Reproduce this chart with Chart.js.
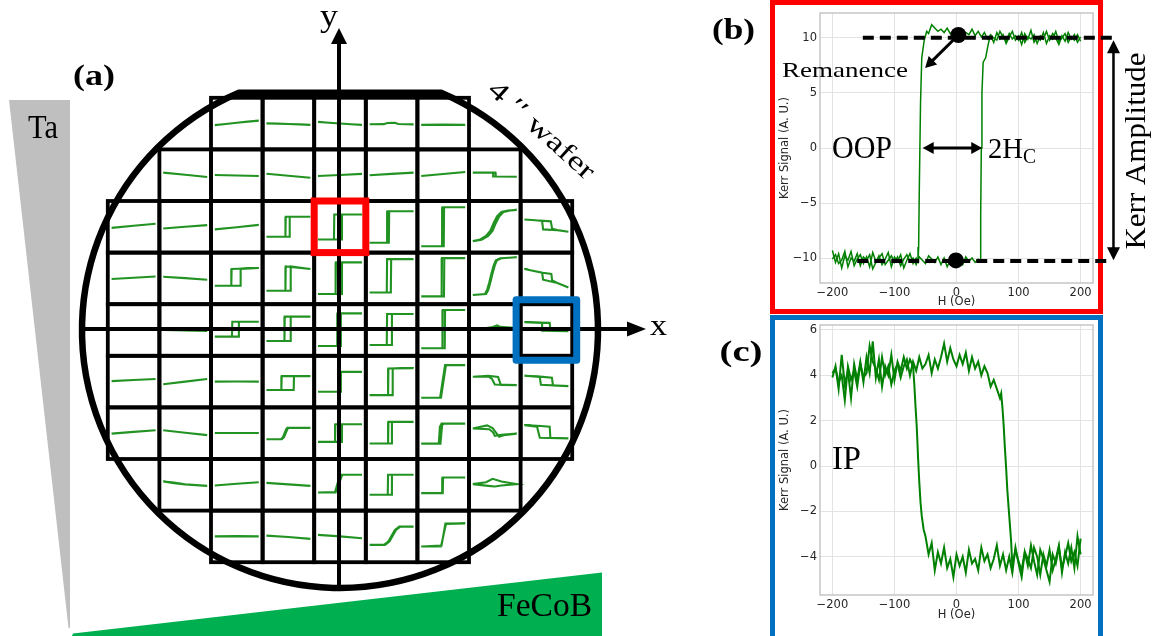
<!DOCTYPE html>
<html><head><meta charset="utf-8">
<script src="https://cdn.jsdelivr.net/npm/chart.js@4.4.1/dist/chart.umd.min.js"></script>
<style>
html,body{margin:0;padding:0;background:#fff}
#wrap{position:relative;width:1152px;height:636px;overflow:hidden;background:#fff}
canvas{position:absolute}
</style>
</head><body><div id="wrap">
<canvas id="ca" width="770" height="636" style="left:0;top:0;width:770px;height:636px"></canvas>
<canvas id="cb" width="382" height="316" style="left:770px;top:0;width:382px;height:316px"></canvas>
<canvas id="cc" width="382" height="324" style="left:770px;top:312px;width:382px;height:324px"></canvas>
</div>
<script>
// ---------- tick labels ----------
const hTicks = [-200, -100, 0, 100, 200];
const oopTicks = [-10, -5, 0, 5, 10];
const ipTicks = [-4, -2, 0, 2, 4, 6];

// ---------- panel (b): OOP loop, [H (Oe), Kerr signal] ----------
const oopAsc = [[-200,-9.3],[-195,-10.4],[-190,-9.6],[-185,-10.9],[-180,-9.8],[-175,-10.2],[-170,-9.4],[-165,-10.7],[-160,-10.1],[-155,-9.7],[-150,-10.5],[-145,-9.9],[-140,-10.8],[-135,-9.5],[-130,-10.3],[-125,-10.0],[-120,-9.6],[-115,-10.6],[-110,-10.2],[-105,-9.8],[-100,-10.4],[-95,-9.9],[-90,-10.7],[-85,-10.1],[-80,-9.7],[-75,-10.3],[-70,-10.0],[-65,-10.6],[-60,-9.9],[-55,-10.2],[-50,-10.5],[-45,-9.8],[-40,-10.1],[-35,-10.4],[-30,-9.9],[-25,-10.6],[-20,-10.0],[-15,-10.8],[-10,-10.2],[-5,-9.9],[0,-10.4],[5,-10.1],[10,-10.6],[15,-9.9],[20,-10.3],[25,-10.0],[30,-10.4],[35,-10.1],[38,-10.2],[39,-6.0],[40,0.0],[41,5.0],[43,7.8],[47,8.2],[50,9.1],[53,9.9],[55,10.2],[60,9.6],[65,10.5],[70,9.9],[75,10.3],[80,9.5],[85,10.1],[90,10.6],[95,9.8],[100,10.2],[105,9.4],[110,10.4],[115,9.9],[120,10.7],[125,9.6],[130,10.1],[135,9.8],[140,10.5],[145,9.5],[150,10.2],[155,9.9],[160,10.6],[165,9.7],[170,10.0],[175,10.4],[180,9.6],[185,10.1],[190,9.8],[195,10.3],[200,9.7]];
const oopDesc = [[200,10.1],[195,9.6],[190,10.3],[185,9.9],[180,10.5],[175,9.7],[170,10.2],[165,9.4],[160,10.0],[155,10.4],[150,9.8],[145,10.6],[140,9.9],[135,10.2],[130,9.5],[125,10.3],[120,9.9],[115,10.1],[110,9.6],[105,10.5],[100,9.8],[95,10.2],[90,9.9],[85,10.4],[80,9.7],[75,10.1],[70,10.6],[65,9.8],[60,10.0],[55,10.3],[50,9.9],[45,10.5],[40,10.1],[35,10.6],[30,10.2],[25,10.8],[20,10.3],[15,10.5],[10,10.1],[5,10.7],[0,10.3],[-5,10.6],[-10,10.4],[-15,10.9],[-20,10.5],[-25,10.8],[-30,10.6],[-35,10.9],[-40,11.2],[-45,10.4],[-48,10.6],[-52,9.8],[-56,8.2],[-58,4.0],[-60,-4.0],[-61,-9.0],[-62,-10.3],[-65,-10.0],[-70,-10.5],[-75,-9.6],[-80,-10.2],[-85,-10.9],[-90,-9.7],[-95,-10.3],[-100,-9.9],[-105,-10.8],[-110,-9.5],[-115,-10.1],[-120,-10.6],[-125,-9.8],[-130,-10.4],[-135,-11.0],[-140,-9.7],[-145,-10.2],[-150,-9.9],[-155,-10.7],[-160,-9.6],[-165,-10.3],[-170,-10.0],[-175,-10.8],[-180,-9.4],[-185,-10.2],[-190,-10.5],[-195,-9.7],[-200,-10.1]];
// annotation values of panel (b)
const satTopLine = [[-151,10.03],[260,10.03]];
const satBottomLine = [[-160,-10.27],[251,-10.27]];
const remanenceDots = [[3,10.27],[-1,-10.22]];
const remArrowH = [3,-50.6], remArrowS = [10.27,7.27];
const hcArrowH = [-54.5,41.5], hcArrowS = 0;
const ampArrowH = 253, ampArrowS = [9.8,-10.2];

// ---------- panel (c): IP loop, [H (Oe), Kerr signal] ----------
const ipAsc = [[-200,3.9],[-195,4.4],[-190,3.4],[-185,4.9],[-180,3.6],[-175,4.2],[-170,3.0],[-165,4.5],[-160,3.8],[-155,4.6],[-150,3.7],[-145,4.8],[-140,4.1],[-135,5.5],[-130,3.9],[-125,4.7],[-120,3.5],[-115,4.4],[-110,4.0],[-105,4.9],[-100,3.8],[-95,4.6],[-90,4.2],[-85,4.8],[-80,4.3],[-75,4.7],[-70,4.4],[-68,3.6],[-66,2.6],[-64,1.7],[-62,0.4],[-60,-0.7],[-58,-1.6],[-56,-2.2],[-53,-2.8],[-50,-3.1],[-45,-3.9],[-40,-3.4],[-35,-4.6],[-30,-3.8],[-25,-4.3],[-20,-3.6],[-15,-4.5],[-10,-4.1],[-5,-4.9],[0,-3.9],[5,-4.4],[10,-4.0],[15,-4.7],[20,-3.7],[25,-4.3],[30,-4.1],[35,-4.6],[40,-3.6],[45,-4.2],[50,-3.9],[55,-4.5],[60,-4.1],[65,-3.5],[70,-4.4],[75,-3.9],[80,-4.6],[85,-4.0],[90,-4.7],[95,-3.6],[100,-4.3],[105,-4.9],[110,-3.8],[115,-4.4],[120,-3.5],[125,-4.2],[130,-4.8],[135,-3.7],[140,-4.1],[145,-4.6],[150,-5.1],[155,-3.9],[160,-4.3],[165,-3.6],[170,-4.5],[175,-4.0],[180,-3.4],[185,-4.2],[190,-3.8],[195,-4.4],[200,-3.2]];
const ipDesc = [[200,-3.9],[195,-3.1],[190,-4.5],[185,-3.6],[180,-4.3],[175,-3.8],[170,-4.7],[165,-3.5],[160,-4.1],[155,-4.6],[150,-3.7],[145,-4.4],[140,-3.9],[135,-4.8],[130,-4.0],[125,-3.6],[120,-4.5],[115,-4.1],[110,-3.8],[105,-4.6],[100,-4.2],[95,-3.7],[90,-4.4],[88,-3.3],[85,-2.2],[82,-1.1],[80,-0.1],[78,0.8],[76,1.8],[74,2.6],[72,3.2],[70,3.0],[65,3.4],[60,3.8],[55,3.5],[50,4.1],[45,4.4],[40,4.0],[35,4.6],[30,4.3],[25,4.8],[20,4.2],[15,5.0],[10,4.5],[5,4.9],[0,4.4],[-5,4.7],[-10,5.2],[-15,4.6],[-20,5.4],[-25,4.8],[-30,4.3],[-35,4.7],[-40,4.1],[-45,4.9],[-50,4.5],[-55,4.3],[-60,4.8],[-65,4.2],[-70,4.6],[-75,4.0],[-80,4.7],[-85,4.4],[-90,3.9],[-95,4.5],[-100,4.2],[-105,3.6],[-110,4.4],[-115,4.0],[-120,4.8],[-125,3.8],[-130,4.3],[-135,4.6],[-140,5.3],[-145,4.1],[-150,3.9],[-155,4.5],[-160,3.5],[-165,4.2],[-170,3.8],[-175,4.4],[-180,2.9],[-185,4.0],[-190,3.7],[-195,4.3],[-200,4.1]];

// ---------- panel (a): wafer map, per row: [column, loop path [H, signal]] ----------
const waferRow0 = [
 [2,[[-200,-1.2],[-100,-0.3],[0,0.6],[100,1.5],[200,2.3]]],
 [3,[[-200,0.2],[-100,0],[0,-0.3],[100,-0.6],[200,-1.0]]],
 [4,[[-200,1.3],[-100,0.7],[0,0.1],[100,-0.5],[200,-1.0]]],
 [5,[[-200,-0.5],[-70,-0.4],[-40,0.5],[30,0.6],[60,-0.3],[200,-0.6]]],
 [6,[[-200,-1.0],[0,-0.8],[200,-1.0]]]];
const waferRow1 = [
 [1,[[-200,2.0],[0,0.4],[200,-1.4]]],
 [2,[[-200,0.2],[0,-0.2],[200,-0.6]]],
 [3,[[-200,1.1],[0,-0.4],[200,-2.0]]],
 [4,[[-200,-0.6],[0,0.2],[200,1.0]]],
 [5,[[-200,0.0],[0,1.0],[200,2.0]]],
 [6,[[-200,-0.6],[0,0.9],[200,2.5]]],
 [7,[[-200,2.0],[5,2.0],[8,-1.0],[200,-1.2],[-12,-1.0],[-15,2.0],[-200,2.0]]]];
const waferRow2 = [
 [0,[[-200,-0.8],[0,0.8],[200,2.3]]],
 [1,[[-200,-1.3],[0,0.0],[200,1.3]]],
 [2,[[-200,-2.0],[0,-0.3],[200,1.5]]],
 [3,[[-200,-7.7],[9,-7.7],[12,7.7],[200,7.7],[-24,7.7],[-27,-7.7],[-200,-7.7]]],
 [4,[[-200,-9.8],[15,-9.8],[18,9.5],[200,9.5],[-52,9.5],[-55,-9.8],[-200,-9.8]]],
 [5,[[-200,-12.3],[-25,-12.3],[-22,12.0],[200,12.0],[-38,12.0],[-41,-12.3],[-200,-12.3]]],
 [6,[[-200,-15.0],[5,-15.0],[8,15.0],[200,15.0],[-7,15.0],[-10,-15.0],[-200,-15.0]]],
 [7,[[-200,-11],[-120,-10],[-60,-7],[-20,-3],[10,3],[40,8],[80,11.5],[140,12.5],[200,13],[120,12.5],[60,11.5],[20,8],[-10,3],[-40,-3],[-80,-7],[-140,-10],[-200,-11]]],
 [8,[[-200,5.6],[-100,5.0],[40,4.2],[52,-1.5],[100,-2.5],[200,-3.8],[100,-2.6],[-30,-2.0],[-39,4.4],[-100,5.0],[-200,5.6]]]];
const waferRow3 = [
 [0,[[-200,-0.5],[0,0.5],[200,1.5]]],
 [1,[[-200,1.3],[0,0.2],[200,-1.0]]],
 [2,[[-200,-5.6],[32,-5.6],[35,7.2],[200,8.0],[-47,7.2],[-50,-5.6],[-200,-5.6]]],
 [3,[[-200,-9.5],[18,-9.5],[21,9.2],[200,7.2],[-24,9.2],[-27,-9.5],[-200,-9.5]]],
 [4,[[-200,-12.0],[15,-12.0],[18,12.3],[200,12.3],[-37,12.3],[-40,-12.0],[-200,-12.0]]],
 [5,[[-200,-10.8],[-7,-10.8],[-4,14.8],[200,14.8],[-41,14.8],[-44,-10.8],[-200,-10.8]]],
 [6,[[-200,-13.8],[7,-13.8],[10,15.6],[200,15.6],[-11,15.6],[-14,-13.8],[-200,-13.8]]],
 [7,[[-200,-12.8],[-80,-12],[-60,-9],[-40,-3],[-20,4],[0,10],[20,14],[60,15.5],[200,16.3],[50,15.5],[10,14],[-10,10],[-30,4],[-50,-3],[-70,-9],[-90,-12],[-200,-12.8]]],
 [8,[[-200,7.2],[-50,4.6],[45,3.5],[52,-1.5],[100,-3.5],[200,-7.0],[100,-3.6],[-30,-1.0],[-39,4.5],[-100,5.5],[-200,7.2]]]];
const waferRow4 = [
 [0,[[-200,0.0],[0,0.2],[200,0.5]]],
 [1,[[-200,0.0],[0,-0.4],[200,-0.8]]],
 [2,[[-200,-5.1],[16,-5.1],[19,6.4],[200,6.4],[-41,6.4],[-44,-5.1],[-200,-5.1]]],
 [3,[[-200,-8.5],[18,-8.5],[21,10.3],[200,10.3],[-33,10.3],[-36,-8.5],[-200,-8.5]]],
 [4,[[-200,-12.3],[5,-12.3],[8,12.8],[200,12.8],[-22,12.8],[-25,-12.3],[-200,-12.3]]],
 [5,[[-200,-11.5],[0,-11.5],[3,12.3],[200,12.3],[-41,12.3],[-44,-11.5],[-200,-11.5]]],
 [6,[[-200,-14.0],[14,-14.0],[17,15.4],[200,15.4],[-4,15.4],[-7,-14.0],[-200,-14.0]]],
 [7,[[-200,0.0],[-50,1.0],[0,2.5],[50,2.5],[200,1.5],[60,2.0],[20,3.5],[-30,2.0],[-200,0.0]]],
 [8,[[-200,6.0],[30,5.5],[36,-0.5],[200,-1.0],[-33,-0.6],[-39,5.5],[-200,6.0]]]];
const waferRow5 = [
 [0,[[-200,0.4],[0,1.2],[200,2.0]]],
 [1,[[-200,-2.0],[0,0.0],[200,2.0]]],
 [2,[[-200,0.0],[0,0.1],[200,0.0]]],
 [3,[[-200,-6.5],[48,-6.5],[51,4.2],[200,4.2],[-61,4.2],[-64,-6.5],[-200,-6.5]]],
 [4,[[-200,-7.8],[5,-7.8],[8,7.5],[200,7.5],[-12,7.5],[-15,-7.8],[-200,-7.8]]],
 [5,[[-200,-10.4],[7,-10.4],[10,10.1],[200,10.4],[-29,10.1],[-32,-10.4],[-200,-10.4]]],
 [6,[[-200,-12.4],[-20,-12.4],[25,12.7],[200,12.7],[17,12.7],[-28,-12.4],[-200,-12.4]]],
 [7,[[-200,3.7],[-60,4.5],[30,3.5],[55,-2.5],[200,-2.7],[0,-2.2],[-25,2.0],[-60,4.0],[-200,3.7]]],
 [8,[[-200,4.5],[-80,4.0],[50,3.0],[60,-3.0],[200,-3.5],[-50,-2.5],[-60,3.5],[-200,4.5]]]];
const waferRow6 = [
 [0,[[-200,-0.3],[0,1.0],[200,2.3]]],
 [1,[[-200,2.3],[0,0.4],[200,-1.5]]],
 [2,[[-200,0.2],[0,0.2],[200,0.2]]],
 [3,[[-200,-4.6],[-60,-4.6],[-40,-3.0],[-10,3.0],[0,4.1],[200,4.1],[-10,4.1],[-20,3.0],[-50,-3.0],[-68,-4.6],[-200,-4.6]]],
 [4,[[-200,-6.7],[15,-6.7],[18,6.9],[200,6.9],[-42,6.9],[-45,-6.7],[-200,-6.7]]],
 [5,[[-200,-7.9],[0,-7.9],[3,8.7],[200,8.7],[-29,8.7],[-32,-7.9],[-200,-7.9]]],
 [6,[[-200,-8.0],[-25,-8.0],[-10,6.0],[5,7.4],[200,7.4],[-15,7.4],[-30,5.0],[-40,-8.0],[-200,-8.0]]],
 [7,[[-200,3.6],[-70,6.0],[-20,4.0],[40,-2.8],[80,-1.5],[200,-0.3],[60,-1.2],[0,-2.0],[-14,0.5],[-50,3.0],[-200,3.6]]],
 [8,[[-200,6.2],[-50,5.5],[30,5.0],[36,-3.5],[200,-4.0],[-60,-3.5],[-85,5.0],[-200,6.2]]]];
const waferRow7 = [
 [1,[[-200,2.5],[-100,1.2],[0,0.3],[200,-0.8],[0,0.4],[-120,1.9],[-200,2.5]]],
 [2,[[-200,-0.5],[0,0.8],[200,2.0]]],
 [3,[[-200,1.5],[0,0.3],[200,-0.8]]],
 [4,[[-200,-5.9],[-40,-5.9],[20,7.7],[200,7.7],[0,7.7],[-45,-5.5],[-200,-5.9]]],
 [5,[[-200,-7.7],[0,-7.7],[3,7.7],[200,7.7],[-32,7.7],[-35,-7.7],[-200,-7.7]]],
 [6,[[-200,-6.4],[-4,-6.4],[-1,5.6],[200,5.6],[-6,5.6],[-9,-6.4],[-200,-6.4]]],
 [7,[[-200,0.5],[-60,-0.8],[0,-1.3],[60,-0.5],[200,0.5],[60,2.5],[-20,4.6],[-80,2.0],[-200,0.5]]]];
const waferRow8 = [
 [2,[[-200,0.0],[0,0.2],[200,0.0]]],
 [3,[[-200,0.6],[0,-0.5],[200,-1.9]]],
 [4,[[-200,1.2],[0,0.0],[200,-1.4]]],
 [5,[[-200,-6.5],[-60,-6.5],[-20,-4.0],[40,5.0],[80,7.5],[200,7.5],[70,7.5],[30,5.0],[-30,-4.0],[-70,-6.5],[-200,-6.5]]],
 [6,[[-200,-7.8],[-20,-7.8],[25,9.5],[200,10.0],[20,9.8],[-15,-7.0],[-200,-7.8]]]];
const waferRows = [waferRow0,waferRow1,waferRow2,waferRow3,waferRow4,waferRow5,waferRow6,waferRow7,waferRow8];
const oopCell = [2,4];   // [row, column] shown in (b)
const ipCell = [4,8];    // [row, column] shown in (c)

// ---------- helpers ----------
const SERIF = '"Liberation Serif", "DejaVu Serif", serif';
function fmt(v){ return v < 0 ? '\u2212' + Math.abs(v) : String(v); }
function txt(ctx, s, x, y, o){
  ctx.save();
  ctx.font = (o.weight || 'normal') + ' ' + o.size + 'px ' + (o.family || SERIF);
  ctx.fillStyle = o.color || '#000';
  ctx.textBaseline = o.base || 'alphabetic';
  ctx.textAlign = o.align || 'left';
  ctx.translate(x, y);
  if (o.rot) ctx.rotate(o.rot);
  if (o.w) { const m = ctx.measureText(s).width; ctx.scale(o.w / m, 1); }
  ctx.fillText(s, 0, 0);
  ctx.restore();
}
function head(ctx, x1, y1, x2, y2, len, hw){
  const a = Math.atan2(y2 - y1, x2 - x1);
  ctx.beginPath();
  ctx.moveTo(x2, y2);
  ctx.lineTo(x2 - len*Math.cos(a) + hw*Math.sin(a), y2 - len*Math.sin(a) - hw*Math.cos(a));
  ctx.lineTo(x2 - len*Math.cos(a) - hw*Math.sin(a), y2 - len*Math.sin(a) + hw*Math.cos(a));
  ctx.closePath(); ctx.fill();
}
function arrow(ctx, x1, y1, x2, y2, lw, len, hw, both){
  ctx.save();
  ctx.strokeStyle = '#000'; ctx.fillStyle = '#000'; ctx.lineWidth = lw;
  const a = Math.atan2(y2 - y1, x2 - x1);
  const sx = both ? x1 + (len-2)*Math.cos(a) : x1, sy = both ? y1 + (len-2)*Math.sin(a) : y1;
  ctx.beginPath(); ctx.moveTo(sx, sy);
  ctx.lineTo(x2 - (len-2)*Math.cos(a), y2 - (len-2)*Math.sin(a)); ctx.stroke();
  head(ctx, x1, y1, x2, y2, len, hw);
  if (both) head(ctx, x2, y2, x1, y1, len, hw);
  ctx.restore();
}
function poly(ctx, pts, col){
  ctx.save(); ctx.fillStyle = col; ctx.beginPath();
  pts.forEach((p,i) => i ? ctx.lineTo(p[0],p[1]) : ctx.moveTo(p[0],p[1]));
  ctx.closePath(); ctx.fill(); ctx.restore();
}
function xy(arr){ return arr.map(p => ({x: p[0], y: p[1]})); }

Chart.defaults.font.family = '"DejaVu Sans", sans-serif';

// ---------- panel (a) ----------
const UNIT = 51.6;               // px per cell
const KX = 22 / UNIT / 200;      // field -> cell fraction
const KY = 1.3 / UNIT;           // signal -> cell fraction
const aDatasets = [];
waferRows.forEach((row, r) => row.forEach(([c, path]) => {
  aDatasets.push({
    data: path.map(([h, s]) => ({x: (c - 4) + h*KX, y: (4 - r) + s*KY})),
    showLine: true, borderColor: 'rgba(10,135,10,0.9)', borderWidth: 2.1,
    pointRadius: 0, tension: 0, fill: false, clip: false
  });
}));

const waferDeco = {
  id: 'waferDeco',
  beforeDatasetsDraw(ch){
    const ctx = ch.ctx;
    poly(ctx, [[9,100],[70,100],[70,628],[68.5,628]], '#bfbfbf');
    poly(ctx, [[72,636],[73,633.5],[602,572.5],[602,636]], '#00b050');
  },
  afterDatasetsDraw(ch){
    const {ctx, scales:{x, y}} = ch;
    const U = x.getPixelForValue(1) - x.getPixelForValue(0);
    ctx.save();
    // grid cells
    ctx.strokeStyle = '#000'; ctx.lineWidth = 3.8; ctx.lineJoin = 'miter';
    waferRows.forEach((row, r) => row.forEach(([c]) => {
      ctx.strokeRect(x.getPixelForValue(c - 4.5), y.getPixelForValue(4.5 - r), U, U);
    }));
    // wafer outline with flat
    const cx = x.getPixelForValue(0), cy = y.getPixelForValue(0), R = 5.0*U;
    const fy = y.getPixelForValue(4.6);
    const a1 = Math.asin((fy - cy)/R);
    ctx.lineWidth = 6.5;
    ctx.beginPath(); ctx.arc(cx, cy, R, a1, Math.PI - a1, false); ctx.closePath(); ctx.stroke();
    // axes
    const x0 = x.getPixelForValue(0), y0 = y.getPixelForValue(0);
    arrow(ctx, 83, y0 - 1, 646, y0 - 1, 4, 19, 7.5, false);
    arrow(ctx, x0 - 1, 588, x0 - 1, 28, 4, 16, 8, false);
    // highlighted cells
    ctx.lineWidth = 7; ctx.strokeStyle = '#ff0000';
    ctx.strokeRect(x.getPixelForValue(oopCell[1] - 4.5), y.getPixelForValue(4.5 - oopCell[0]), U, U);
    ctx.strokeStyle = '#0070c0'; ctx.lineJoin = 'round';
    ctx.strokeRect(x.getPixelForValue(ipCell[1] - 4.5) - 4.5, y.getPixelForValue(4.5 - ipCell[0]) - 4.5, U + 9, U + 9);
    ctx.restore();
    // texts
    txt(ctx, '(a)', 94, 85, {size: 30, weight: 'bold', align: 'center', w: 42});
    txt(ctx, '(b)', 733.5, 39, {size: 30, weight: 'bold', align: 'center', w: 43});
    txt(ctx, '(c)', 741, 361, {size: 30, weight: 'bold', align: 'center', w: 43});
    txt(ctx, 'Ta', 28, 138, {size: 33, w: 30});
    txt(ctx, 'FeCoB', 497, 616, {size: 34, w: 95});
    txt(ctx, 'x', 650, 335, {size: 30, w: 17});
    txt(ctx, 'y', 320, 26, {size: 32, w: 18});
    txt(ctx, '4 \u2032\u2032 wafer', 541, 131, {size: 27, align: 'center', base: 'middle', rot: 42*Math.PI/180, w: 134});
  }
};

new Chart(document.getElementById('ca'), {
  type: 'scatter',
  data: {datasets: aDatasets},
  options: {
    responsive: false, animation: false, devicePixelRatio: 1,
    layout: {padding: 0},
    plugins: {legend: {display: false}, tooltip: {enabled: false}},
    scales: {
      x: {type: 'linear', display: false, min: -340/UNIT, max: (770-340)/UNIT},
      y: {type: 'linear', display: false, min: -(636-330)/UNIT, max: 330/UNIT}
    }
  },
  plugins: [waferDeco]
});

// ---------- panels (b) and (c) ----------
function loopScales(yMin, yMax, yT, xH, titlePadB){
  const tickFont = {size: 11.5, family: '"DejaVu Sans"'};
  return {
    x: {type: 'linear', min: -220, max: 220,
      afterFit(s){ s.height = xH; },
      afterBuildTicks(s){ s.ticks = hTicks.map(v => ({value: v})); },
      ticks: {color: '#262626', font: tickFont, padding: 3, maxRotation: 0, autoSkip: false, callback: v => fmt(v)},
      grid: {color: '#e3e3e3', lineWidth: 1, drawTicks: false},
      border: {display: false},
      title: {display: true, text: 'H (Oe)', color: '#262626', font: tickFont, padding: {top: 0, bottom: titlePadB}}},
    y: {type: 'linear', min: yMin, max: yMax,
      afterFit(s){ s.width = 50; },
      afterBuildTicks(s){ s.ticks = yT.map(v => ({value: v})); },
      ticks: {color: '#262626', font: tickFont, padding: 3, autoSkip: false, callback: v => fmt(v)},
      grid: {color: '#e3e3e3', lineWidth: 1, drawTicks: false},
      border: {display: false},
      title: {display: true, text: 'Kerr Signal (A. U.)', color: '#262626', font: tickFont, padding: {top: 7.8, bottom: 0}}}
  };
}
function spine(ch){
  const {ctx, chartArea: a} = ch;
  ctx.save(); ctx.strokeStyle = '#bdbdbd'; ctx.lineWidth = 1.3;
  ctx.strokeRect(a.left, a.top, a.right - a.left, a.bottom - a.top); ctx.restore();
}
function loopDs(arr, w, order){
  return {data: xy(arr), showLine: true, borderColor: '#008000', borderWidth: w, pointRadius: 0, tension: 0, fill: false, order: order};
}

const oopDeco = {
  id: 'oopDeco',
  beforeDraw(ch){
    const c = ch.ctx; c.save(); c.strokeStyle = '#ff0000'; c.lineWidth = 5;
    c.strokeRect(2.5, 2.5, 328, 309); c.restore();
  },
  beforeDatasetsDraw(ch){ spine(ch); },
  afterDatasetsDraw(ch){
    const {ctx, scales:{x, y}} = ch;
    arrow(ctx, x.getPixelForValue(remArrowH[0]), y.getPixelForValue(remArrowS[0]), x.getPixelForValue(remArrowH[1]), y.getPixelForValue(remArrowS[1]), 3, 11, 6, false);
    arrow(ctx, x.getPixelForValue(hcArrowH[0]), y.getPixelForValue(hcArrowS), x.getPixelForValue(hcArrowH[1]), y.getPixelForValue(hcArrowS), 3, 11, 6, true);
    arrow(ctx, x.getPixelForValue(ampArrowH), y.getPixelForValue(ampArrowS[0]), x.getPixelForValue(ampArrowH), y.getPixelForValue(ampArrowS[1]), 2.5, 13, 6.5, true);
    const ox = 770, oy = 0;
    txt(ctx, 'Remanence', 782 - ox, 77 - oy, {size: 22, w: 126});
    txt(ctx, 'OOP', 832 - ox, 158 - oy, {size: 32, w: 60});
    txt(ctx, '2H', 988 - ox, 158 - oy, {size: 30, w: 35});
    txt(ctx, 'C', 1023 - ox, 163 - oy, {size: 20, w: 13});
    txt(ctx, 'Kerr Amplitude', 1145 - ox, 151 - oy, {size: 30, align: 'center', rot: -Math.PI/2, w: 197});
  }
};

new Chart(document.getElementById('cb'), {
  type: 'scatter',
  data: {datasets: [
    {data: xy(remanenceDots), showLine: false, pointRadius: 8, pointBackgroundColor: '#000', pointBorderWidth: 0, clip: false, order: 0},
    {data: xy(satTopLine), showLine: true, borderColor: '#000', borderWidth: 4, borderDash: [11, 6], pointRadius: 0, clip: false, order: 1},
    {data: xy(satBottomLine), showLine: true, borderColor: '#000', borderWidth: 4, borderDash: [11, 6], pointRadius: 0, clip: false, order: 1},
    loopDs(oopAsc, 1.5, 2),
    loopDs(oopDesc, 1.5, 2)
  ]},
  options: {
    responsive: false, animation: false, devicePixelRatio: 1,
    layout: {padding: {left: 0, right: 59, top: 13, bottom: 0}},
    plugins: {legend: {display: false}, tooltip: {enabled: false}},
    scales: loopScales(-12.27, 12.27, oopTicks, 33, 6.8)
  },
  plugins: [oopDeco]
});

const ipDeco = {
  id: 'ipDeco',
  beforeDraw(ch){
    const c = ch.ctx; c.save(); c.strokeStyle = '#0070c0'; c.lineWidth = 5;
    c.strokeRect(2.5, 5.5, 328, 400); c.restore();
  },
  beforeDatasetsDraw(ch){ spine(ch); },
  afterDatasetsDraw(ch){
    txt(ch.ctx, 'IP', 832 - 770, 469 - 312, {size: 33, w: 29});
  }
};

new Chart(document.getElementById('cc'), {
  type: 'scatter',
  data: {datasets: [loopDs(ipAsc, 2, 0), loopDs(ipDesc, 2, 0)]},
  options: {
    responsive: false, animation: false, devicePixelRatio: 1,
    layout: {padding: {left: 0, right: 59, top: 13, bottom: 0}},
    plugins: {legend: {display: false}, tooltip: {enabled: false}},
    scales: loopScales(-5.69, 6.22, ipTicks, 41, 14.1)
  },
  plugins: [ipDeco]
});
</script>
</body></html>
